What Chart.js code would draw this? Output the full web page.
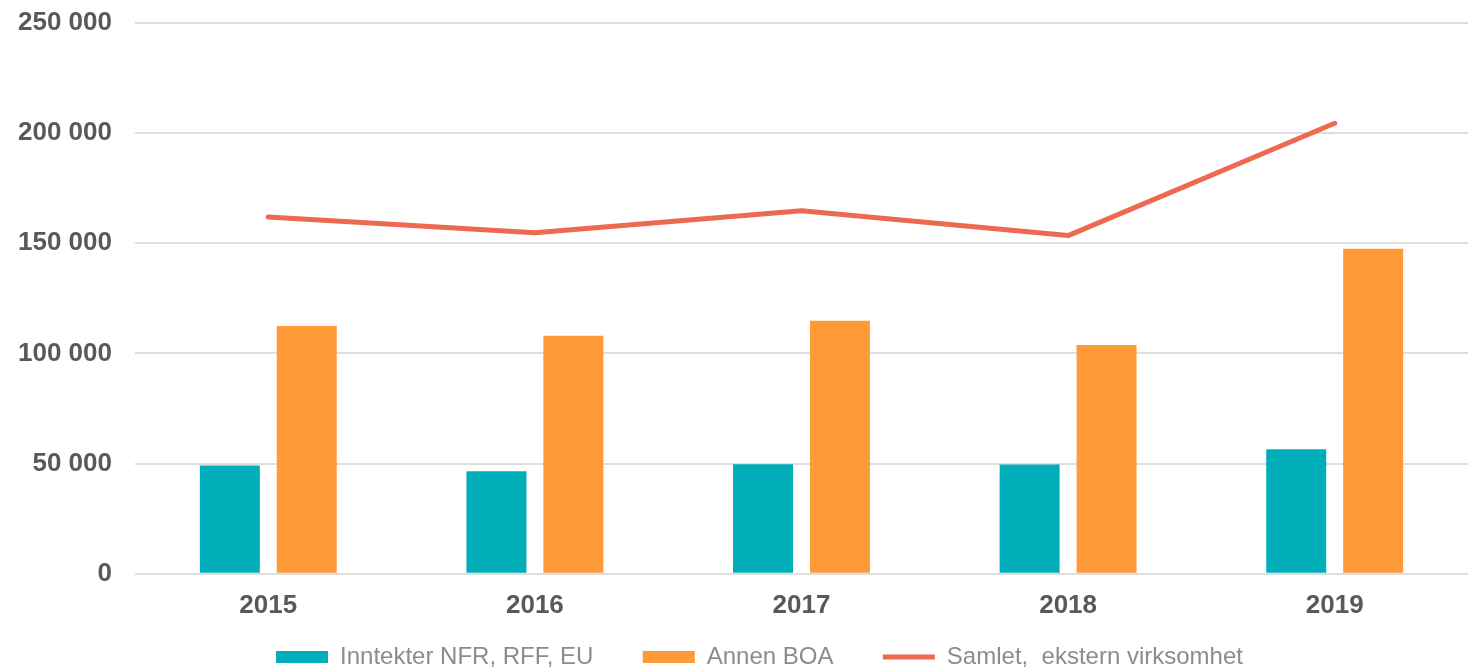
<!DOCTYPE html>
<html>
<head>
<meta charset="utf-8">
<script src="https://cdn.jsdelivr.net/npm/chart.js"></script>
<style>
  html, body { margin: 0; padding: 0; background: #fff; }
  #wrap { width: 1468px; height: 669px; }
</style>
</head>
<body>
<div id="wrap"><canvas id="chart" width="1468" height="669"></canvas></div>
<script>
// data
const years = ['2015', '2016', '2017', '2018', '2019'];
const nfrRffEu = [49200, 46500, 49700, 49600, 56500];
const annenBoa = [112500, 108000, 114800, 103800, 147500];
const samlet = [162000, 154800, 164800, 153500, 204500];
const yTicks = [0, 50000, 100000, 150000, 200000, 250000];

const FONT = "'Liberation Sans', Arial, sans-serif";

function fmt(v) {
  return String(v).replace(/\B(?=(\d{3})+(?!\d))/g, ' ');
}

// the original legend sits a bit right of centre
const shiftLegend = {
  id: 'shiftLegend',
  afterLayout(chart) {
    if (chart.legend) {
      chart.legend.left += 28;
      chart.legend.right += 28;
    }
  }
};

new Chart(document.getElementById('chart').getContext('2d'), {
  type: 'bar',
  data: {
    labels: years,
    datasets: [
      {
        type: 'line',
        label: 'Samlet,  ekstern virksomhet',
        data: samlet,
        borderColor: '#ED6A51',
        backgroundColor: '#ED6A51',
        borderWidth: 5,
        borderCapStyle: 'round',
        borderJoinStyle: 'round',
        pointRadius: 0,
        pointStyle: 'line',
        tension: 0,
        order: 0
      },
      {
        label: 'Inntekter NFR, RFF, EU',
        data: nfrRffEu,
        backgroundColor: '#00AEB9',
        pointStyle: 'rect',
        categoryPercentage: 0.577,
        barPercentage: 0.78,
        order: 1
      },
      {
        label: 'Annen BOA',
        data: annenBoa,
        backgroundColor: '#FE9A37',
        pointStyle: 'rect',
        categoryPercentage: 0.577,
        barPercentage: 0.78,
        order: 2
      }
    ]
  },
  plugins: [shiftLegend],
  options: {
    responsive: false,
    animation: false,
    layout: { padding: { top: 23, left: -5, right: 0, bottom: -10 } },
    scales: {
      x: {
        grid: { display: false },
        border: { display: false },
        ticks: {
          padding: 8,
          color: '#595959',
          font: { family: FONT, size: 26, weight: 'bold' }
        }
      },
      y: {
        min: 0,
        max: 250000,
        afterBuildTicks: axis => { axis.ticks = yTicks.map(v => ({ value: v })); },
        afterFit: axis => { axis.paddingTop = 0; },
        grid: { color: '#dedede', lineWidth: 2, drawTicks: false },
        border: { display: false },
        ticks: {
          padding: 23,
          color: '#595959',
          font: { family: FONT, size: 26, weight: 'bold' },
          callback: v => fmt(v)
        }
      }
    },
    plugins: {
      legend: {
        position: 'bottom',
        labels: {
          usePointStyle: true,
          pointStyleWidth: 52,
          boxHeight: 12,
          padding: 16,
          color: '#8C8C8C',
          font: { family: FONT, size: 24 },
          generateLabels: chart => {
            const items = Chart.defaults.plugins.legend.labels.generateLabels(chart);
            const order = [1, 2, 0];
            const sorted = order.map(i => items.find(it => it.datasetIndex === i));
            sorted.forEach((it, i) => { if (i < sorted.length - 1) it.text += '     '; });
            return sorted;
          }
        }
      },
      tooltip: { enabled: false }
    }
  }
});
</script>
</body>
</html>
